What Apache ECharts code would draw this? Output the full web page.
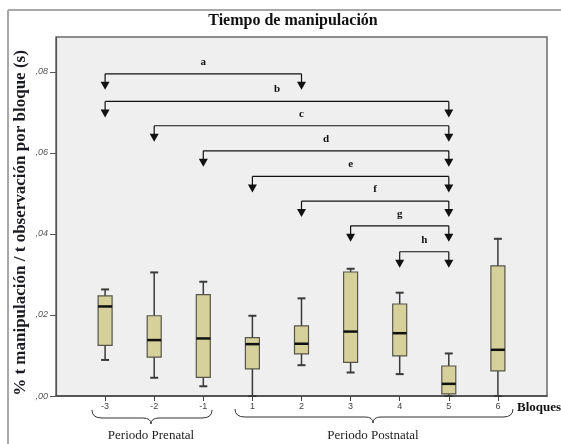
<!DOCTYPE html>
<html>
<head>
<meta charset="utf-8">
<script src="https://cdn.jsdelivr.net/npm/echarts@6/dist/echarts.min.js"></script>
<style>
  html, body { margin: 0; padding: 0; background: #fff; }
  #chart { width: 561px; height: 444px; }
</style>
</head>
<body>
<div id="chart"></div>
<script>
  // bloques (con huecos a los lados del eje)
  const categories = ['-3', '-2', '-1', '1', '2', '3', '4', '5', '6'];
  const whiskerLow = [0.0089, 0.0045, 0.0024, 0.0, 0.0076, 0.0058, 0.0054, 0.0, 0.0];
  const q1 = [0.0125, 0.0096, 0.0046, 0.0067, 0.0104, 0.0083, 0.0099, 0.0005, 0.0062];
  const median = [0.0221, 0.0138, 0.0142, 0.0128, 0.0129, 0.0159, 0.0155, 0.0030, 0.0114];
  const q3 = [0.0247, 0.0198, 0.0250, 0.0144, 0.0173, 0.0306, 0.0227, 0.0074, 0.0321];
  const whiskerHigh = [0.0263, 0.0305, 0.0282, 0.0198, 0.0241, 0.0314, 0.0255, 0.0105, 0.0388];

  // comparaciones significativas
  const pairLabels = ['a', 'b', 'c', 'd', 'e', 'f', 'g', 'h'];
  const pairFrom = ['-3', '-3', '-2', '-1', '1', '2', '3', '4'];
  const pairTo = ['2', '5', '5', '5', '5', '5', '5', '5'];
  const pairLevel = [0.0795, 0.0727, 0.0667, 0.0605, 0.0542, 0.0481, 0.0420, 0.0356];

  const yTicks = [0, 0.02, 0.04, 0.06, 0.08];

  const axisCats = [''].concat(categories, ['']);
  const boxData = categories.map((c, i) => [axisCats.indexOf(c), whiskerLow[i], q1[i], median[i], q3[i], whiskerHigh[i]]);
  const pairData = pairLabels.map((l, i) => [axisCats.indexOf(pairFrom[i]), axisCats.indexOf(pairTo[i]), pairLevel[i]]);

  const chart = echarts.init(document.getElementById('chart'));

  function renderBox(params, api) {
    const x = api.value(0);
    const pLow = api.coord([x, api.value(1)]);
    const pQ1 = api.coord([x, api.value(2)]);
    const pMed = api.coord([x, api.value(3)]);
    const pQ3 = api.coord([x, api.value(4)]);
    const pHigh = api.coord([x, api.value(5)]);
    const cx = pLow[0];
    const w = 14;
    const cap = 4;
    const dark = '#3a3a3a';
    return {
      type: 'group',
      children: [
        { type: 'line', shape: { x1: cx, y1: pLow[1], x2: cx, y2: pHigh[1] }, style: { stroke: dark, lineWidth: 1.5 } },
        { type: 'line', shape: { x1: cx - cap, y1: pLow[1], x2: cx + cap, y2: pLow[1] }, style: { stroke: dark, lineWidth: 2 } },
        { type: 'line', shape: { x1: cx - cap, y1: pHigh[1], x2: cx + cap, y2: pHigh[1] }, style: { stroke: dark, lineWidth: 2 } },
        { type: 'rect', shape: { x: cx - w / 2, y: pQ3[1], width: w, height: pQ1[1] - pQ3[1] }, style: { fill: '#d6d19a', stroke: '#55554b', lineWidth: 1.2 } },
        { type: 'line', shape: { x1: cx - w / 2, y1: pMed[1], x2: cx + w / 2, y2: pMed[1] }, style: { stroke: '#111', lineWidth: 2.5 } }
      ]
    };
  }

  function arrowHead(x, y) {
    // punta hacia abajo
    return { type: 'polygon', shape: { points: [[x - 4.5, y + 8], [x + 4.5, y + 8], [x, y + 16]] }, style: { fill: '#111' } };
  }

  function renderPair(params, api) {
    const a = api.coord([api.value(0), api.value(2)]);
    const b = api.coord([api.value(1), api.value(2)]);
    const y = a[1];
    const stroke = { stroke: '#111', lineWidth: 1.2 };
    return {
      type: 'group',
      children: [
        { type: 'line', shape: { x1: a[0], y1: y, x2: b[0], y2: y }, style: stroke },
        { type: 'line', shape: { x1: a[0], y1: y, x2: a[0], y2: y + 9 }, style: stroke },
        { type: 'line', shape: { x1: b[0], y1: y, x2: b[0], y2: y + 9 }, style: stroke },
        arrowHead(a[0], y),
        arrowHead(b[0], y),
        {
          type: 'text',
          style: {
            x: (a[0] + b[0]) / 2, y: y - 12, text: pairLabels[params.dataIndex],
            font: 'bold 11px "Liberation Serif"', fill: '#111', align: 'center', verticalAlign: 'middle'
          }
        }
      ]
    };
  }

  // llave horizontal abierta hacia arriba
  function brace(x1, x2, xm, top) {
    const h = top + 8;
    const s = { stroke: '#333', lineWidth: 1, fill: null };
    return {
      type: 'group', silent: true,
      children: [
        { type: 'bezierCurve', shape: { x1: x1, y1: top, x2: x1 + 10, y2: h, cpx1: x1, cpy1: h }, style: s },
        { type: 'line', shape: { x1: x1 + 10, y1: h, x2: xm - 8, y2: h }, style: s },
        { type: 'bezierCurve', shape: { x1: xm - 8, y1: h, x2: xm, y2: h + 6, cpx1: xm, cpy1: h }, style: s },
        { type: 'bezierCurve', shape: { x1: xm, y1: h + 6, x2: xm + 8, y2: h, cpx1: xm, cpy1: h }, style: s },
        { type: 'line', shape: { x1: xm + 8, y1: h, x2: x2 - 10, y2: h }, style: s },
        { type: 'bezierCurve', shape: { x1: x2 - 10, y1: h, x2: x2, y2: top, cpx1: x2, cpy1: h }, style: s }
      ]
    };
  }

  const option = {
    animation: false,
    backgroundColor: '#fff',
    grid: {
      left: 56, top: 37, right: 14, bottom: 48,
      show: true, backgroundColor: '#efefef', borderColor: '#6a6a6a', borderWidth: 1.5
    },
    xAxis: {
      type: 'category',
      data: axisCats,
      boundaryGap: false,
      axisLine: { lineStyle: { color: '#444', width: 1.5 } },
      axisTick: { length: 5, lineStyle: { color: '#444' }, interval: (i, v) => v !== '' },
      axisLabel: { interval: 0, margin: 6, fontSize: 9, color: '#444', fontFamily: 'Liberation Sans' },
      splitLine: { show: false }
    },
    yAxis: {
      type: 'value',
      min: 0,
      max: 0.0886,
      interval: 0.02,
      axisLine: { show: true, lineStyle: { color: '#555', width: 1.2 } },
      axisTick: { show: true, length: 6, lineStyle: { color: '#555' }, customValues: yTicks },
      axisLabel: {
        margin: 8, fontSize: 9, fontStyle: 'italic', color: '#555', fontFamily: 'Liberation Sans',
        customValues: yTicks,
        formatter: v => v.toFixed(2).replace('0.', ',')
      },
      splitLine: { show: false }
    },
    series: [
      {
        type: 'custom',
        renderItem: renderBox,
        encode: { x: 0, y: [1, 2, 3, 4, 5] },
        data: boxData,
        clip: false,
        z: 3
      },
      {
        type: 'custom',
        renderItem: renderPair,
        encode: { x: [0, 1], y: 2 },
        data: pairData,
        clip: false,
        z: 4
      }
    ],
    graphic: [
      { type: 'line', shape: { x1: 8, y1: 10, x2: 561, y2: 10 }, style: { stroke: '#a8a8a8', lineWidth: 2 }, silent: true },
      { type: 'line', shape: { x1: 8, y1: 10, x2: 8, y2: 444 }, style: { stroke: '#a8a8a8', lineWidth: 2 }, silent: true },
      {
        type: 'text', x: 293, y: 21,
        style: { text: 'Tiempo de manipulación', font: 'bold 16px "Liberation Serif"', fill: '#111', align: 'center', verticalAlign: 'middle' }
      },
      {
        type: 'text', x: 21, y: 223, rotation: Math.PI / 2,
        style: {
          text: '% t manipulación / t observación por bloque (s)', font: 'bold 17px "Liberation Serif"',
          fill: '#1a1a22', align: 'center', verticalAlign: 'middle'
        }
      },
      brace(92, 212, 151, 410),
      brace(235, 513, 373, 409),
      {
        type: 'text', x: 151, y: 436,
        style: { text: 'Periodo Prenatal', font: '13px "Liberation Serif"', fill: '#222', align: 'center', verticalAlign: 'middle' }
      },
      {
        type: 'text', x: 373, y: 436,
        style: { text: 'Periodo Postnatal', font: '13px "Liberation Serif"', fill: '#222', align: 'center', verticalAlign: 'middle' }
      },
      {
        type: 'text', x: 517, y: 408,
        style: { text: 'Bloques', font: 'bold 13px "Liberation Sans Narrow"', fill: '#111', align: 'left', verticalAlign: 'middle' }
      }
    ]
  };

  chart.setOption(option);
</script>
</body>
</html>
